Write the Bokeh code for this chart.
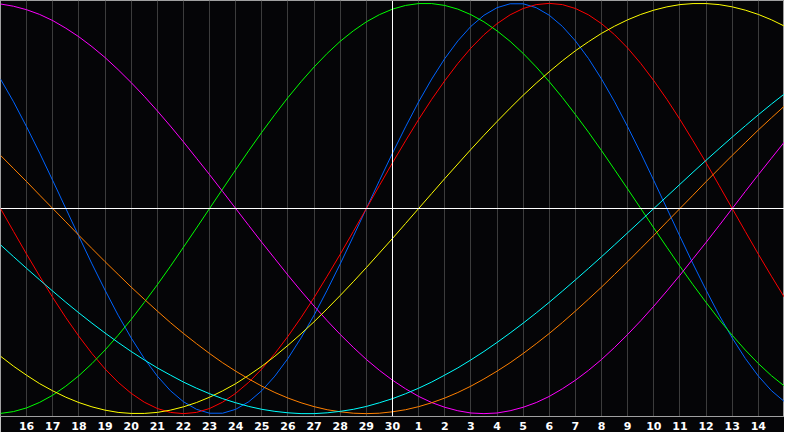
from bokeh.plotting import figure
from bokeh.models import FixedTicker, Span, Range1d
from bokeh.embed import file_html
from bokeh.resources import INLINE

# day labels under grid lines (chart runs from the 15th to the 15th)
day_labels = ["16", "17", "18", "19", "20", "21", "22", "23", "24", "25", "26", "27", "28", "29", "30",
              "1", "2", "3", "4", "5", "6", "7", "8", "9", "10", "11", "12", "13", "14"]
# sample positions: every half day over 30 days
t = [k / 2 for k in range(61)]

# cycle values (x1000), read at each half day
physical_23 = [631,520,398,270,136,0,-136,-270,-398,-520,-631,-731,-817,-888,-942,-979,-998,-998,-979,-942,-888,-817,-731,-631,-520,-398,-270,-136,0,136,270,398,520,631,731,817,888,942,979,998,998,979,942,888,817,731,631,520,398,270,136,0,-136,-270,-398,-520,-631,-731,-817,-888,-942]
emotional_28 = [0,-112,-223,-330,-434,-532,-623,-707,-782,-847,-901,-944,-975,-994,-1000,-994,-975,-944,-901,-847,-782,-707,-623,-532,-434,-330,-223,-112,0,112,223,330,434,532,623,707,782,847,901,944,975,994,1000,994,975,944,901,847,782,707,623,532,434,330,223,112,0,-112,-223,-330,-434]
intellectual_33 = [-999,-990,-972,-945,-910,-866,-815,-756,-690,-618,-541,-458,-372,-282,-189,-95,0,95,189,282,372,458,541,618,690,756,815,866,910,945,972,990,999,999,990,972,945,910,866,815,756,690,618,541,458,372,282,189,95,0,-95,-189,-282,-372,-458,-541,-618,-690,-756,-815,-866]
intuitive_38 = [997,986,969,946,916,879,837,789,736,677,614,547,476,402,325,245,165,83,0,-83,-165,-245,-325,-402,-476,-547,-614,-677,-736,-789,-837,-879,-916,-946,-969,-986,-997,-1000,-997,-986,-969,-946,-916,-879,-837,-789,-736,-677,-614,-547,-476,-402,-325,-245,-165,-83,0,83,165,245,325]
aesthetic_43 = [-720,-769,-813,-854,-889,-920,-946,-967,-983,-994,-999,-999,-994,-983,-967,-946,-920,-889,-854,-813,-769,-720,-667,-611,-552,-489,-424,-357,-288,-217,-146,-73,0,73,146,217,288,357,424,489,552,611,667,720,769,813,854,889,920,946,967,983,994,999,999,994,983,967,946,920,889]
awareness_48 = [259,195,131,65,0,-65,-131,-195,-259,-321,-383,-442,-500,-556,-609,-659,-707,-752,-793,-831,-866,-897,-924,-947,-966,-981,-991,-998,-1000,-998,-991,-981,-966,-947,-924,-897,-866,-831,-793,-752,-707,-659,-609,-556,-500,-442,-383,-321,-259,-195,-131,-65,0,65,131,195,259,321,383,442,500]
spiritual_53 = [-177,-235,-292,-348,-403,-457,-509,-559,-607,-653,-697,-738,-777,-812,-846,-876,-903,-927,-947,-965,-979,-989,-996,-1000,-1000,-996,-989,-979,-965,-947,-927,-903,-876,-846,-812,-777,-738,-697,-653,-607,-559,-509,-457,-403,-348,-292,-235,-177,-118,-59,0,59,118,177,235,292,348,403,457,509,559]

series = [physical_23, emotional_28, intellectual_33, intuitive_38, aesthetic_43, awareness_48, spiritual_53]
colors = ["#0064ff", "#ff0000", "#00ff00", "#ff00ff", "#ffff00", "#ff8000", "#00ffff"]

p = figure(width=784, height=432, output_backend="svg", toolbar_location=None,
           x_range=Range1d(0, 30), y_range=Range1d(-1014, 1014), min_border=0)
p.background_fill_color = "#050507"
p.border_fill_color = "#050507"
p.outline_line_color = "#a0a0a0"

ticks = list(range(1, 30))
p.xaxis.ticker = FixedTicker(ticks=ticks)
p.xaxis.major_label_overrides = {k: l for k, l in zip(ticks, day_labels)}
p.xaxis.major_tick_out = 0
p.xaxis.major_tick_in = 0
p.xaxis.minor_tick_out = 0
p.xaxis.minor_tick_in = 0
p.xaxis.axis_line_color = "#a0a0a0"
p.xaxis.major_label_standoff = 5
p.xaxis.major_label_text_color = "white"
p.xaxis.major_label_text_font = "DejaVu Sans"
p.xaxis.major_label_text_font_style = "bold"
p.xaxis.major_label_text_font_size = "11px"
p.yaxis.visible = False
p.xgrid.ticker = FixedTicker(ticks=ticks)
p.xgrid.grid_line_color = "#3c3c3c"
p.ygrid.visible = False

p.add_layout(Span(location=15, dimension="height", line_color="white", line_width=1))
p.add_layout(Span(location=0, dimension="width", line_color="white", line_width=1))

for vals, c in zip(series, colors):
    p.line(t, vals, line_color=c, line_width=1)

open("out.html", "w").write(file_html(p, INLINE))
